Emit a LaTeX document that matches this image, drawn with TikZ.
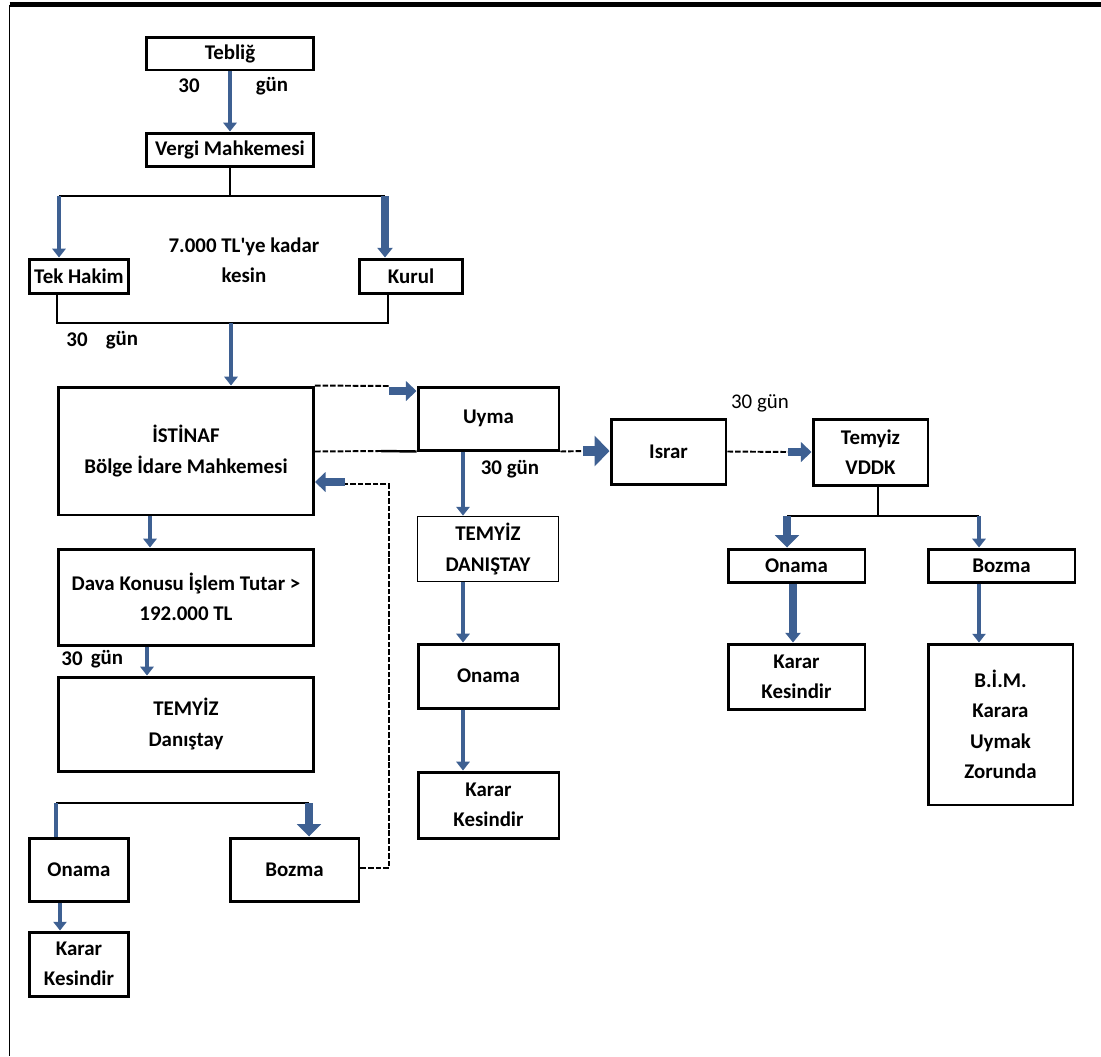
\documentclass[tikz,border=0pt]{standalone}
\usepackage{fontspec}
\setmainfont{Carlito}
\usetikzlibrary{arrows.meta, calc, positioning}
\definecolor{arrowblue}{RGB}{62,96,146}

\tikzset{
  box/.style={draw, line width=1.7pt, align=center, inner sep=0pt,
    font=\bfseries\fontsize{11.9}{17.3}\selectfont},
  thinbox/.style={box, line width=1pt},
  lbl/.style={inner sep=0pt, align=center, font=\bfseries\fontsize{11.9}{17.3}\selectfont},
  conn/.style={line width=0.9pt},
  dashline/.style={line width=1.1pt, dash pattern=on 3.2pt off 1.1pt},
  arr/.style={arrowblue, line width=2.8pt, -{Triangle[width=7.5pt,length=5pt]}},
  arrw/.style={arrowblue, line width=4pt, -{Triangle[width=8.5pt,length=5.5pt]}},
  arrbig/.style={arrowblue, line width=5pt, -{Triangle[width=13.5pt,length=7pt]}},
  harr/.style={arrowblue, line width=4.6pt, -{Triangle[width=11pt,length=6pt]}},
  harrbig/.style={arrowblue, line width=5.6pt, -{Triangle[width=17pt,length=8.5pt]}}
}

\begin{document}
\begin{tikzpicture}[x=0.02cm, y=-0.02cm]
\useasboundingbox (0,0) rectangle (1101,1056);

% frame
\draw[line width=2.3pt] (9.5,4.5) -- (1101,4.5);
\draw[line width=0.9pt] (9.5,4.5) -- (9.5,1056);

% boxes
\node[box, minimum width=3.36cm, minimum height=0.66cm] (teblig) at (230,53.5) {Tebliğ};
\node[box, minimum width=3.36cm, minimum height=0.66cm] (vergi) at (230,149.5) {Vergi Mahkemesi};
\node[box, minimum width=2.0cm, minimum height=0.68cm] (tek) at (79,276) {Tek Hakim};
\node[box, minimum width=2.06cm, minimum height=0.68cm] (kurul) at (411,276) {Kurul};
\node[box, minimum width=5.1cm, minimum height=2.56cm] (istinaf) at (186,451) {İSTİNAF\\Bölge İdare Mahkemesi};
\node[box, minimum width=5.1cm, minimum height=1.92cm] (dava) at (186,597) {Dava Konusu İşlem Tutar >\\192.000 TL};
\node[box, minimum width=5.1cm, minimum height=1.88cm] (temyizL) at (186,724) {TEMYİZ\\Danıştay};
\node[box, minimum width=2.0cm, minimum height=1.26cm] (onamaL) at (79,869.5) {Onama};
\node[box, minimum width=2.58cm, minimum height=1.26cm] (bozmaL) at (294.5,869.5) {Bozma};
\node[box, minimum width=2.0cm, minimum height=1.28cm] (kararL) at (79,964) {Karar\\Kesindir};

\node[box, minimum width=2.82cm, minimum height=1.26cm] (uyma) at (488.5,418.5) {Uyma};
\node[thinbox, minimum width=2.82cm, minimum height=1.3cm] (danistayM) at (488,549) {TEMYİZ\\DANIŞTAY};
\node[box, minimum width=2.82cm, minimum height=1.28cm] (onamaM) at (488.5,676) {Onama};
\node[box, minimum width=2.82cm, minimum height=1.32cm] (kararM) at (488.5,805) {Karar\\Kesindir};

\node[box, minimum width=2.3cm, minimum height=1.3cm] (israr) at (668.5,451.5) {Israr};
\node[box, minimum width=2.3cm, minimum height=1.32cm] (vddk) at (870.5,452) {Temyiz\\VDDK};
\node[box, minimum width=2.74cm, minimum height=0.66cm] (onamaR) at (796.5,565.5) {Onama};
\node[box, minimum width=2.94cm, minimum height=0.66cm] (bozmaR) at (1001.5,565.5) {Bozma};
\node[box, minimum width=2.74cm, minimum height=1.3cm] (kararR) at (796.5,676.5) {Karar\\Kesindir};
\node[box, minimum width=2.9cm, minimum height=3.22cm] (bim) at (1000.5,724.5) {B.İ.M.\\Karara\\Uymak\\Zorunda};

% labels
\node[lbl] (otuzA) at (189,86) {30};
\node[lbl] (gunA) at (272,86) {gün};
\node[lbl] (kesin) at (244,260) {7.000 TL\textquotesingle ye kadar\\kesin};
\node[lbl] (otuzB) at (77,340) {30};
\node[lbl] (gunB) at (122,340) {gün};
\node[lbl] (otuzC) at (72,659) {30};
\node[lbl] (gunC) at (107,659) {gün};
\node[lbl] (gunD) at (510,469) {30 gün};
\node[lbl, font=\fontsize{11.9}{14}\selectfont] (gunE) at (760,403) {30 gün};

% vergi mahkemesi
\draw[arr] (teblig) -- (vergi);
\coordinate (split) at (230,196);
\coordinate (tekIn) at (59,196);
\coordinate (kurulIn) at (385,196);
\draw[conn] (vergi) -- (split);
\draw[conn] (tekIn) -- (kurulIn);
\draw[arr] (tekIn) -- (tekIn |- tek.north);
\draw[arrw] (kurulIn) -- (kurulIn |- kurul.north);

\coordinate (joinL) at (57,323);
\coordinate (joinR) at (388,323);
\coordinate (istIn) at (231,323);
\draw[conn] (tek.south -| joinL) -- (joinL) -- (joinR) -- (kurul.south -| joinR);
\draw[arr] (istIn) -- (istIn |- istinaf.north);

% left column
\coordinate (lx) at (150,0);
\coordinate (lx2) at (147,0);
\draw[arr] (istinaf.south -| lx) -- (dava.north -| lx);
\draw[arr] (dava.south -| lx2) -- (temyizL.north -| lx2);
\coordinate (sL) at (56,803);
\coordinate (sR) at (309,803);
\draw[conn] (sL) -- (sR);
\draw[arrowblue, line width=2.6pt] (sL) -- (sL |- onamaL.north);
\draw[arrbig] (sR) -- (sR |- bozmaL.north);
\coordinate (kx) at (60,0);
\draw[arr] (onamaL.south -| kx) -- (kararL.north -| kx);

% back to istinaf
\coordinate (rA) at (389,868);
\coordinate (rB) at (389,484);
\coordinate (rC) at (345,484);
\coordinate (rD) at (345,482);
\draw[dashline] (bozmaL.east |- rA) -- (rA) -- (rB) -- (rC);
\draw[harr] (rD) -- (istinaf.east |- rD);

% istinaf to uyma
\coordinate (uA) at (389,386);
\coordinate (uB) at (389,391);
\draw[dashline] (istinaf.north east) -- (uA);
\draw[harr] (uB) -- (uyma.west |- uB);
\coordinate (uC) at (381,451);
\draw[dashline] (istinaf.east |- uyma.south) -- (uC);
\draw[line width=1.4pt] (uC) -- (uyma.south west);

% middle column
\coordinate (mx) at (463,0);
\draw[arr] (uyma.south -| mx) -- (danistayM.north -| mx);
\draw[arr] (danistayM.south -| mx) -- (onamaM.north -| mx);
\draw[arr] (onamaM.south -| mx) -- (kararM.north -| mx);

% israr and vddk
\coordinate (iA) at (583,451);
\draw[dashline] (uyma.south east) -- (iA);
\draw[harrbig] (iA) -- (israr.west |- iA);
\coordinate (vA) at (788,452);
\draw[dashline] (israr.east) -- (vA);
\draw[harr] (vA) -- (vddk.west);

% right column
\coordinate (vS) at (878,516);
\coordinate (vL) at (787,516);
\coordinate (vR) at (979,516);
\draw[conn] (vddk.south -| vS) -- (vS);
\draw[conn] (vL) -- (vR);
\draw[arrbig] (vL) -- (vL |- onamaR.north);
\draw[arr] (vR) -- (vR |- bozmaR.north);
\coordinate (ox) at (793,0);
\draw[arrw] (onamaR.south -| ox) -- (kararR.north -| ox);
\draw[arr] (bozmaR.south -| vR) -- (bim.north -| vR);

\end{tikzpicture}
\end{document}
